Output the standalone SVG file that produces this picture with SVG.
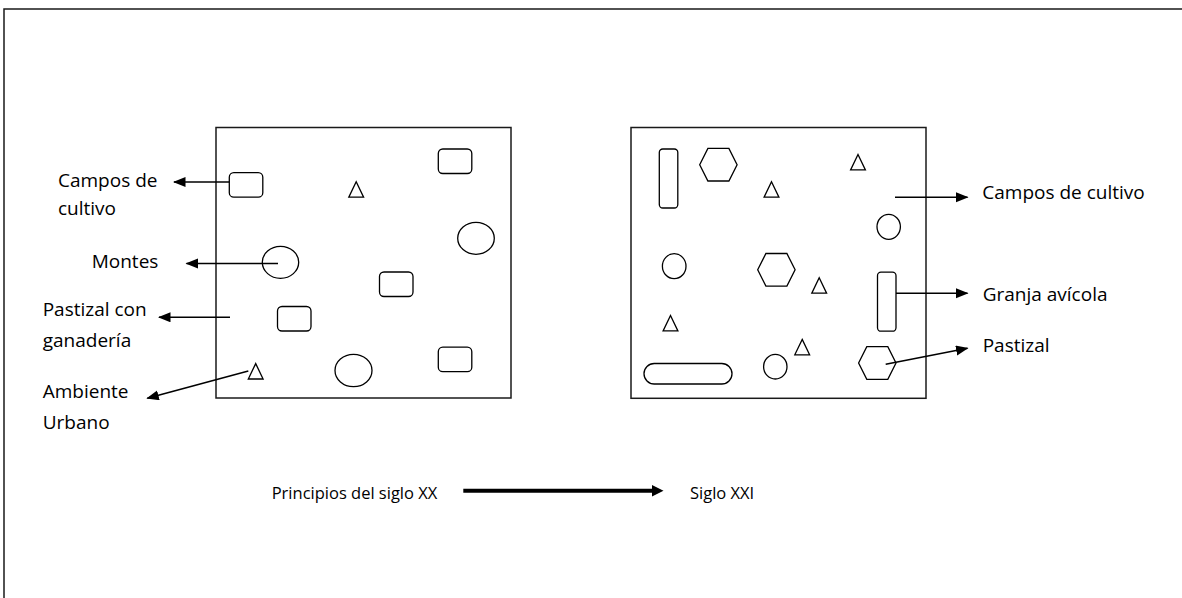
<svg xmlns="http://www.w3.org/2000/svg" width="1182" height="598" viewBox="0 0 1182 598">
  <style>
    .frame { fill: none; stroke: #1a1a1a; stroke-width: 1.5; }
    .box { fill: #ffffff; stroke: #1a1a1a; stroke-width: 1.5; }
    .shp { fill: #ffffff; stroke: #000000; stroke-width: 1.3; }
    .conn { fill: none; stroke: #000000; stroke-width: 1.5; }
    .time { fill: none; stroke: #000000; stroke-width: 4; }
    .lbl { font-family: "Open Sans", "Liberation Sans", sans-serif; font-size: 19px; fill: #000000; }
    .lbl-s { font-family: "Open Sans", "Liberation Sans", sans-serif; font-size: 16.5px; fill: #000000; }
  </style>
  <defs>
    <marker id="head" markerUnits="userSpaceOnUse" markerWidth="13" markerHeight="11" refX="11.5" refY="5" orient="auto">
      <path d="M0,0 L12.5,5 L0,10 Z" fill="#000000"/>
    </marker>
    <marker id="headBig" markerUnits="userSpaceOnUse" markerWidth="13" markerHeight="13" refX="0.5" refY="6" orient="auto">
      <path d="M0,0 L12,6 L0,12 Z" fill="#000000"/>
    </marker>
    <path id="hex" d="M-18.7,0 L-10.5,-16.3 L10.5,-16.3 L18.7,0 L10.5,16.3 L-10.5,16.3 Z"/>
    <path id="tri" d="M0,-7.8 L7.4,7.6 L-7.4,7.6 Z"/>
    <rect id="rr" x="0" y="0" width="33.5" height="24.5" rx="4.5" ry="4.5"/>
    <rect id="vr" x="0" y="0" width="18.5" height="59" rx="3.5" ry="3.5"/>
  </defs>

  <!-- page frame -->
  <path class="frame" d="M4,598 V9 H1182"/>

  <!-- early twentieth century land use -->
  <g id="mapa-siglo-xx">
    <rect class="box" x="216" y="127.5" width="295" height="270.5"/>
    <use href="#rr" class="shp" x="229.3" y="172.7"/>
    <use href="#rr" class="shp" x="438.3" y="149"/>
    <use href="#tri" class="shp" x="356.2" y="189.6"/>
    <ellipse class="shp" cx="476" cy="238.3" rx="18.3" ry="16"/>
    <ellipse class="shp" cx="280.5" cy="262.3" rx="18.2" ry="16"/>
    <use href="#rr" class="shp" x="379.5" y="272"/>
    <use href="#rr" class="shp" x="277.5" y="306.5"/>
    <use href="#tri" class="shp" x="255.7" y="371.4"/>
    <ellipse class="shp" cx="353.5" cy="370.5" rx="18.5" ry="16.2"/>
    <use href="#rr" class="shp" x="438.3" y="347.2"/>
  </g>

  <!-- twenty-first century land use -->
  <g id="mapa-siglo-xxi">
    <rect class="box" x="631" y="127.5" width="295" height="270.8"/>
    <use href="#vr" class="shp" x="659.3" y="149"/>
    <use href="#hex" class="shp" x="718.4" y="164.7"/>
    <use href="#tri" class="shp" x="771.5" y="189.5"/>
    <use href="#tri" class="shp" x="858" y="162.3"/>
    <ellipse class="shp" cx="888.7" cy="226.8" rx="11.7" ry="12.5"/>
    <ellipse class="shp" cx="674.2" cy="266.2" rx="11.8" ry="12.5"/>
    <use href="#hex" class="shp" x="776.4" y="269.8"/>
    <use href="#tri" class="shp" x="819.2" y="285.6"/>
    <use href="#vr" class="shp" x="877.5" y="272.2"/>
    <use href="#tri" class="shp" x="670.5" y="323.3"/>
    <use href="#tri" class="shp" x="802.2" y="347.2"/>
    <rect class="shp" x="644" y="363.5" width="88" height="20.5" rx="10.2" ry="10.2"/>
    <ellipse class="shp" cx="775.3" cy="366.7" rx="11.7" ry="12.3"/>
    <use href="#hex" class="shp" x="877.3" y="363"/>
  </g>

  <!-- leader arrows -->
  <g id="conectores">
    <line class="conn" x1="229.3" y1="182" x2="174" y2="182" marker-end="url(#head)"/>
    <line class="conn" x1="278" y1="263.5" x2="186.5" y2="263.5" marker-end="url(#head)"/>
    <line class="conn" x1="230" y1="317.3" x2="159" y2="317.3" marker-end="url(#head)"/>
    <line class="conn" x1="248.3" y1="371" x2="147.3" y2="398.3" marker-end="url(#head)"/>
    <line class="conn" x1="895" y1="197.3" x2="967.5" y2="197.3" marker-end="url(#head)"/>
    <line class="conn" x1="896" y1="293.3" x2="967.5" y2="293.3" marker-end="url(#head)"/>
    <line class="conn" x1="885.7" y1="364.3" x2="967.5" y2="348.3" marker-end="url(#head)"/>
    <line class="time" x1="463.3" y1="490.8" x2="652" y2="490.8" marker-end="url(#headBig)"/>
  </g>

  <!-- labels -->
  <g id="etiquetas-izquierda">
    <text class="lbl" x="58" y="186.5">Campos de</text>
    <text class="lbl" x="58" y="215">cultivo</text>
    <text class="lbl" x="91.7" y="267.7">Montes</text>
    <text class="lbl" x="42.7" y="316">Pastizal con</text>
    <text class="lbl" x="42.7" y="346.5">ganadería</text>
    <text class="lbl" x="42.7" y="398.3">Ambiente</text>
    <text class="lbl" x="42.7" y="429">Urbano</text>
  </g>
  <g id="etiquetas-derecha">
    <text class="lbl" x="982.3" y="199.3">Campos de cultivo</text>
    <text class="lbl" x="982.7" y="300.7">Granja avícola</text>
    <text class="lbl" x="982.7" y="351.7">Pastizal</text>
  </g>
  <g id="linea-temporal">
    <text class="lbl-s" x="271.7" y="498.5">Principios del siglo XX</text>
    <text class="lbl-s" x="690" y="498.5">Siglo XXI</text>
  </g>
</svg>
